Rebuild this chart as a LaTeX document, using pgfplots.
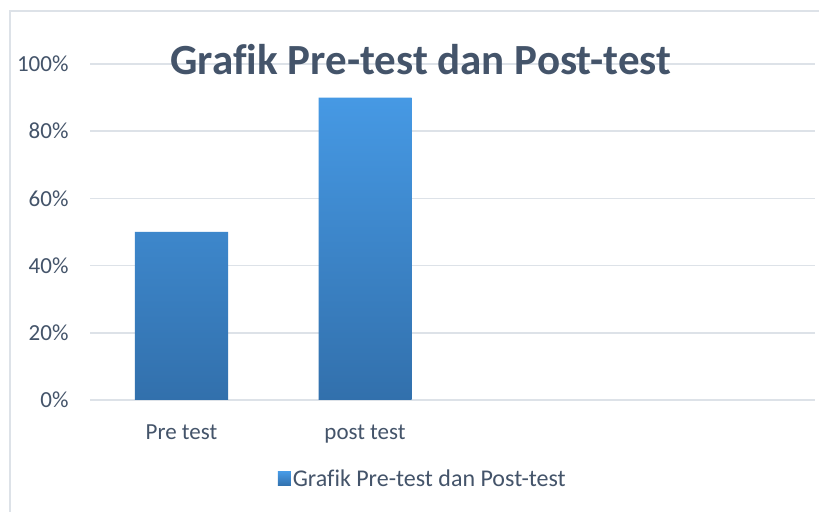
\documentclass[border=0pt]{standalone}
\usepackage{pgfplots}
\pgfplotsset{compat=1.18}
\usepackage{fontspec}
\setmainfont[Ligatures=NoCommon]{Carlito}
\definecolor{txt}{HTML}{44546A}
\definecolor{grid}{HTML}{DDE2E8}
\definecolor{bartop}{HTML}{4699E4}
\definecolor{barbot}{HTML}{3270AC}
\begin{document}
\begin{tikzpicture}[x=1bp,y=1bp]
\useasboundingbox (0,0) rectangle (819,512);
\fill[white] (0,0) rectangle (819,512);
\draw[color=grid, line width=1.5bp] (10,0) -- (10,501) -- (819,501);
\begin{axis}[
  at={(90bp,112bp)}, anchor=south west,
  scale only axis, width=725bp, height=336bp,
  xmin=-0.4986, xmax=3.452, ymin=0, ymax=1,
  axis line style={draw=none},
  ymajorgrids, grid style={color=grid, line width=1.5bp},
  ytick={0,0.2,0.4,0.6,0.8,1},
  yticklabels={0\%,20\%,40\%,60\%,80\%,100\%},
  xtick={0,1}, xticklabels={Pre test, post test},
  tick style={draw=none},
  ticklabel style={font=\fontsize{23bp}{27bp}\selectfont, text=txt},
  yticklabel style={xshift=-18bp},
  xticklabel style={yshift=-21bp},
  legend style={at={(0.459,-0.235)}, anchor=center, draw=none, fill=none,
    font=\fontsize{24bp}{28bp}\selectfont, text=txt},
  legend image code/.code={\fill[top color=bartop, bottom color=barbot] (-2bp,-7bp) rectangle (11bp,7bp);},
]
\addplot[ybar, bar width=0.507, draw=none, top color=bartop, bottom color=barbot] coordinates {(0,0.5) (1,0.9)};
\addlegendentry{Grafik Pre-test dan Post-test}
\end{axis}
\node[text=txt, font=\fontsize{43bp}{50bp}\selectfont\bfseries] at (421,452) {Grafik Pre-test dan Post-test};
\end{tikzpicture}
\end{document}
